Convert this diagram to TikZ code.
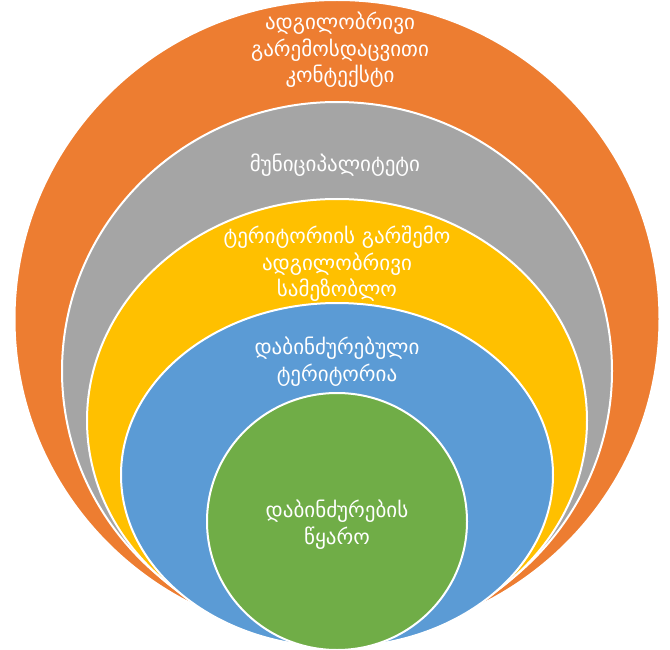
\documentclass[tikz,border=0pt]{standalone}
\usepackage{fontspec}
\newfontfamily\geofont{DejaVu Sans}
\usetikzlibrary{shapes.geometric}
\definecolor{ringorange}{HTML}{ED7D31}
\definecolor{ringgray}{HTML}{A5A5A5}
\definecolor{ringyellow}{HTML}{FFC000}
\definecolor{ringblue}{HTML}{5B9BD5}
\definecolor{ringgreen}{HTML}{70AD47}
\tikzset{
	ring/.style={
		ellipse,
		draw=white,
		line width=2pt,
		inner sep=0pt
	},
	ringtext/.style={
		text=white,
		align=center,
		inner sep=0pt,
		font=\geofont\fontsize{21}{26.5}\selectfont
	}
}

\begin{document}
\begin{tikzpicture}[x=1pt,y=-1pt]
	\useasboundingbox (0,0) rectangle (670,650);

	% nested rings, outer to inner
	\node[ring,fill=ringorange,minimum width=645,minimum height=638] (context) at (337,319) {};
	\node[ring,fill=ringgray,minimum width=550,minimum height=538] (municipality) at (337,371) {};
	\node[ring,fill=ringyellow,minimum width=500,minimum height=443] (neighbourhood) at (337,420.5) {};
	\node[ring,fill=ringblue,minimum width=432,minimum height=344] (territory) at (337,475) {};
	\node[ring,fill=ringgreen,minimum width=260,minimum height=257] (source) at (337,521.5) {};

	% labels
	\node[ringtext] (contexttext) at (340,50) {ადგილობრივი\\გარემოსდაცვითი\\კონტექსტი};
	\node[ringtext] (municipalitytext) at (335,165) {მუნიციპალიტეტი};
	\node[ringtext] (neighbourhoodtext) at (337,264) {ტერიტორიის გარშემო\\ადგილობრივი\\სამეზობლო};
	\node[ringtext] (territorytext) at (337,361.5) {დაბინძურებული\\ტერიტორია};
	\node[ringtext] (sourcetext) at (337,524.5) {დაბინძურების\\წყარო};

\end{tikzpicture}
\end{document}
